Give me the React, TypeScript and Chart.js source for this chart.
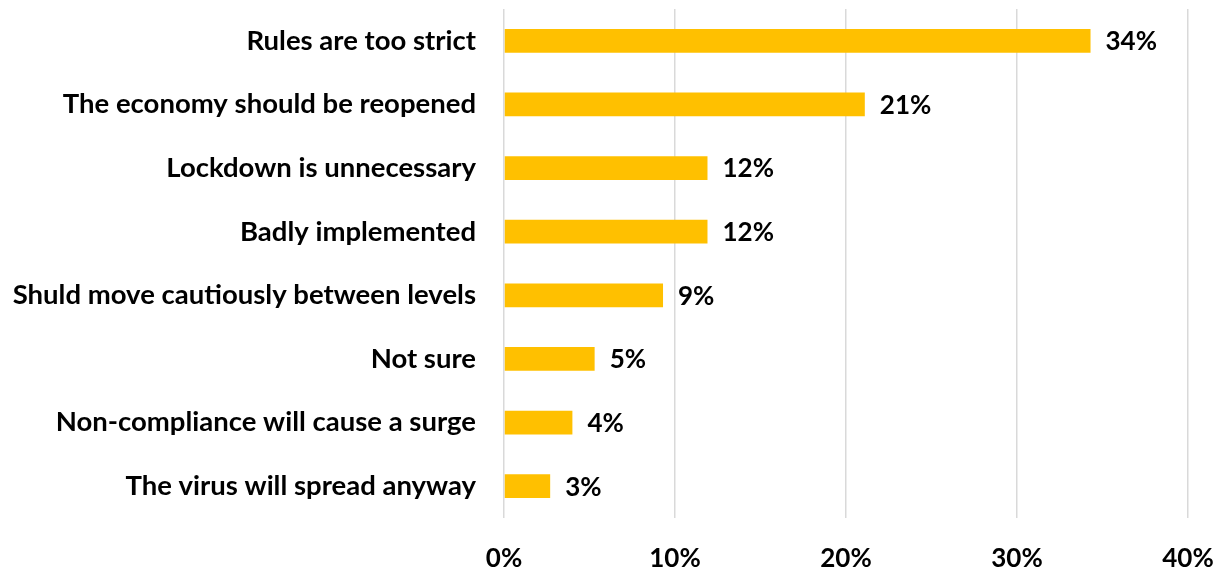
import React, { useEffect, useRef } from "react";
import { Chart, registerables } from "chart.js";

Chart.register(...registerables);

const categories = [
  "Rules are too strict",
  "The economy should be reopened",
  "Lockdown is unnecessary",
  "Badly implemented",
  "Shuld move cautiously between levels",
  "Not sure",
  "Non-compliance will cause a surge",
  "The virus will spread anyway",
];
const values = [34.3, 21.1, 11.9, 11.9, 9.3, 5.3, 4.0, 2.7];
const valueLabels = ["34%", "21%", "12%", "12%", "9%", "5%", "4%", "3%"];
const xTicks = [0, 10, 20, 30, 40];

const FONT_FAMILY = "Lato, 'Open Sans', sans-serif";
const CAT_FONT_SIZE = 27.5;
const NUM_FONT_SIZE = 26;

const valueLabelPlugin = {
  id: "valueLabels",
  afterDatasetsDraw(chart: any) {
    const ctx = chart.ctx;
    const meta = chart.getDatasetMeta(0);
    ctx.save();
    ctx.font = `bold ${NUM_FONT_SIZE}px ${FONT_FAMILY}`;
    ctx.fillStyle = "#000000";
    ctx.textAlign = "left";
    ctx.textBaseline = "middle";
    meta.data.forEach((bar: any, i: number) => {
      ctx.fillText(valueLabels[i], bar.x + 15, bar.y + 1);
    });
    ctx.restore();
  },
};

export default function App() {
  const canvasRef = useRef<HTMLCanvasElement | null>(null);

  useEffect(() => {
    if (!canvasRef.current) return;
    const chart = new Chart(canvasRef.current, {
      type: "bar",
      data: {
        labels: categories,
        datasets: [
          {
            data: values,
            backgroundColor: "#FFC000",
            borderWidth: 0,
            barPercentage: 0.75,
            categoryPercentage: 0.5,
          },
        ],
      },
      options: {
        indexAxis: "y",
        animation: false,
        responsive: false,
        maintainAspectRatio: false,
        layout: { padding: { top: 9, right: 35, left: 0, bottom: 0 } },
        plugins: {
          legend: { display: false },
          tooltip: { enabled: false },
        },
        scales: {
          x: {
            min: 0,
            max: 40,
            afterBuildTicks: (scale: any) => {
              scale.ticks = xTicks.map((v) => ({ value: v }));
            },
            afterFit: (scale: any) => {
              scale.height = 67;
              scale.paddingLeft = 0;
              scale.paddingRight = 0;
            },
            grid: { color: "#d9d9d9", lineWidth: 1.5, drawTicks: false },
            border: { display: false },
            ticks: {
              padding: 25,
              color: "#000000",
              font: { family: FONT_FAMILY, size: NUM_FONT_SIZE, weight: "bold" },
              callback: (v: any) => `${v}%`,
            },
          },
          y: {
            afterFit: (scale: any) => {
              scale.width = 504;
              scale.paddingTop = 0;
              scale.paddingBottom = 0;
            },
            grid: { display: false, drawTicks: false },
            border: { display: false },
            ticks: {
              padding: 28,
              color: "#000000",
              font: { family: FONT_FAMILY, size: CAT_FONT_SIZE, weight: "bold" },
            },
          },
        },
      },
      plugins: [valueLabelPlugin],
    });
    return () => chart.destroy();
  }, []);

  return (
    <div style={{ position: "fixed", left: 0, top: 0, width: 1223, height: 585, background: "#fff" }}>
      <canvas ref={canvasRef} width={1223} height={585} style={{ display: "block" }} />
    </div>
  );
}
